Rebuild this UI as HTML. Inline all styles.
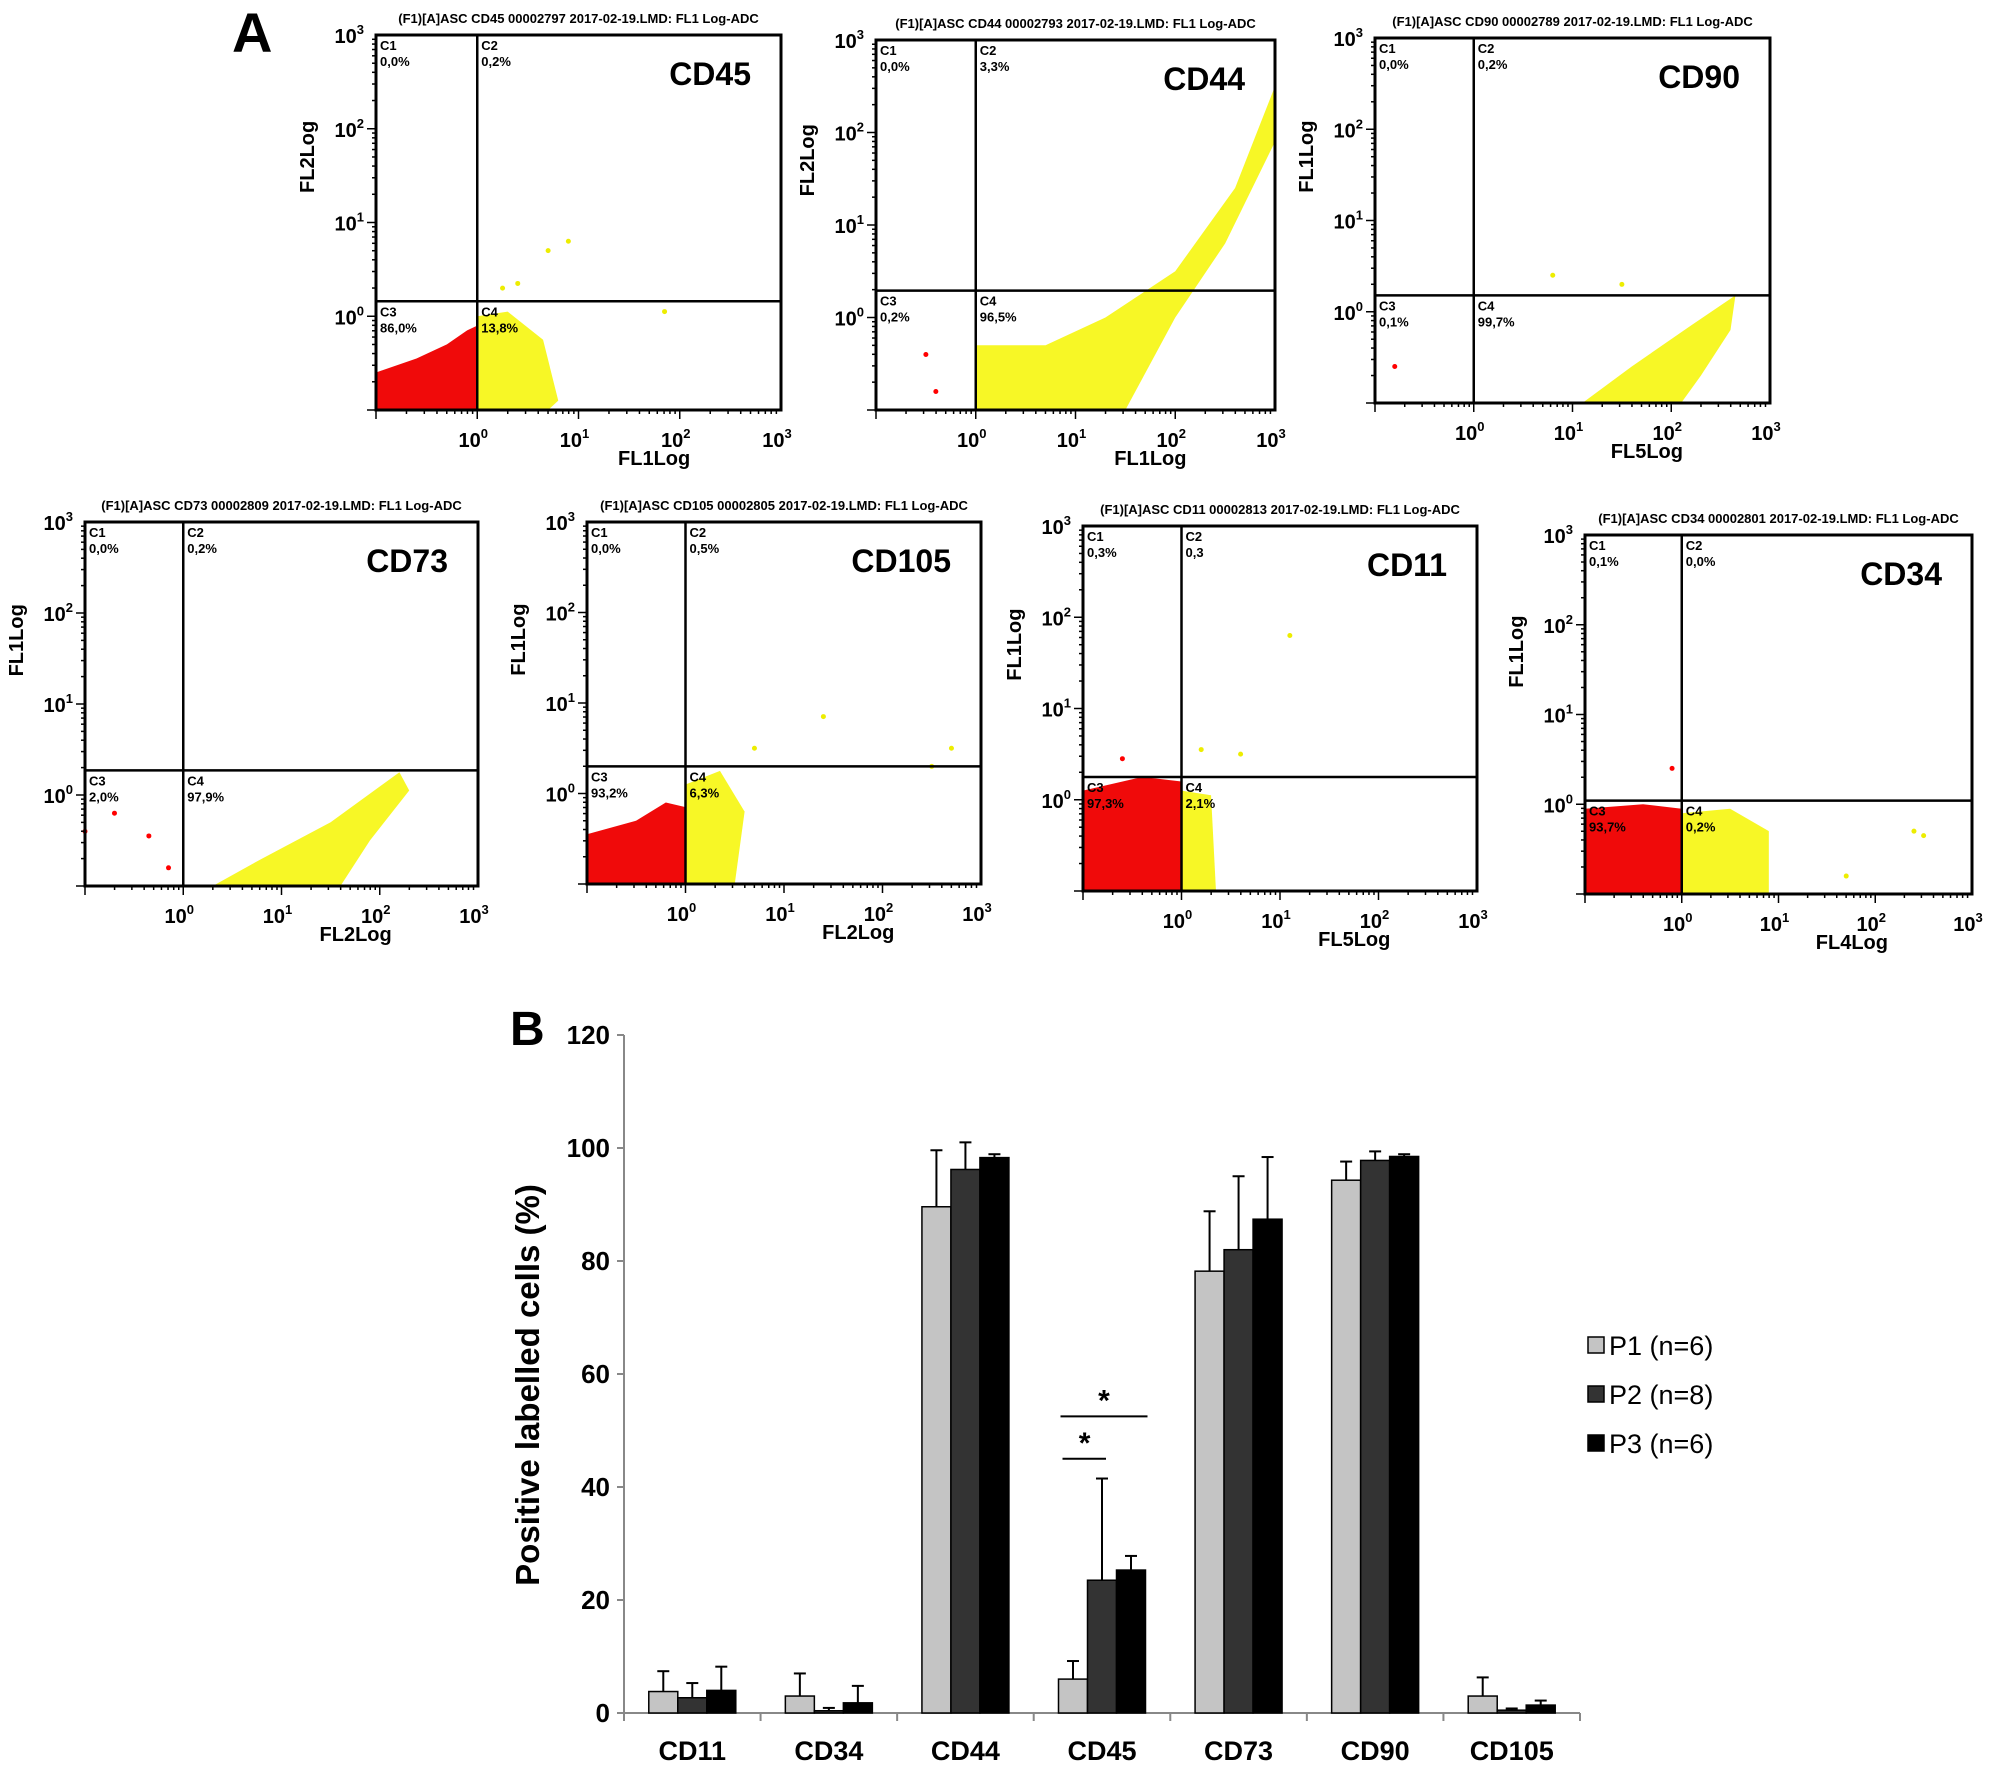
<!DOCTYPE html>
<html><head><meta charset="utf-8"><style>
html,body{margin:0;padding:0;background:#fff;}
svg{display:block;font-family:"Liberation Sans",Arial,sans-serif;}
</style></head><body>
<svg id="fig" width="2008" height="1773" viewBox="0 0 2008 1773" xmlns="http://www.w3.org/2000/svg">
<text x="232" y="52" font-size="56" font-weight="bold">A</text>
<text x="510" y="1045" font-size="48" font-weight="bold">B</text>
<g id="scatters"></g>
<g id="bars"></g>
</svg>
<script>
const NS="http://www.w3.org/2000/svg";
function mk(tag,attrs,parent,txt){const e=document.createElementNS(NS,tag);for(const k in attrs)e.setAttribute(k,attrs[k]);if(txt!==undefined)e.textContent=txt;parent.appendChild(e);return e;}

// ---------- Panel A data ----------
const panelNames=["CD45","CD44","CD90","CD73","CD105","CD11","CD34"];
const panelIds=["00002797","00002793","00002789","00002809","00002805","00002813","00002801"];
const panelYLabels=["FL2Log","FL2Log","FL1Log","FL1Log","FL1Log","FL1Log","FL1Log"];
const panelXLabels=["FL1Log","FL1Log","FL5Log","FL2Log","FL2Log","FL5Log","FL4Log"];
const panelPercents=[["0,0%","0,2%","86,0%","13,8%"],["0,0%","3,3%","0,2%","96,5%"],["0,0%","0,2%","0,1%","99,7%"],["0,0%","0,2%","2,0%","97,9%"],["0,0%","0,5%","93,2%","6,3%"],["0,3%","0,3","97,3%","2,1%"],["0,1%","0,0%","93,7%","0,2%"]];
const panelGateY=[0.16,0.29,0.18,0.27,0.30,0.25,0.04];
// clouds in log-decade coords [x,y]
const redClouds=[
 [[-1,-1],[-1,-0.6],[-0.6,-0.45],[-0.3,-0.3],[-0.1,-0.15],[0,-0.1],[0,-1]],
 null,null,null,
 [[-1,-1],[-1,-0.45],[-0.5,-0.3],[-0.2,-0.1],[0,-0.15],[0,-1]],
 [[-1,-1],[-1,0.1],[-0.4,0.25],[0,0.2],[0,-1]],
 [[-1,-1],[-1,-0.05],[-0.4,0],[0,-0.05],[0,-1]]
];
const yellowClouds=[
 [[0,-1],[0,0],[0.3,0.05],[0.65,-0.25],[0.8,-0.9],[0.7,-1]],
 [[0,-1],[0,-0.3],[0.7,-0.3],[1.3,0],[2,0.5],[2.6,1.4],[3,2.5],[3,1.9],[2.5,0.8],[2,0],[1.7,-0.6],[1.5,-1]],
 [[1.1,-1],[1.6,-0.6],[2.2,-0.15],[2.65,0.18],[2.6,-0.2],[2.3,-0.7],[2.1,-1]],
 [[0.3,-1],[0.8,-0.7],[1.5,-0.3],[2.2,0.25],[2.3,0.05],[1.9,-0.5],[1.6,-1]],
 [[0,-1],[0,0.1],[0.35,0.25],[0.6,-0.2],[0.5,-1]],
 [[0,-1],[0,0.1],[0.3,0.05],[0.35,-1]],
 [[0,-1],[0,-0.1],[0.5,-0.05],[0.9,-0.3],[0.9,-1]]
];
const outliersX=[[0.7,0.9,1.85,0.25,0.4],[-0.5,-0.4],[-0.8,0.8,1.5],[-1,-0.7,-0.35,-0.15],[1.4,2.7,2.5,0.7],[1.1,0.6,-0.6,0.2],[-0.1,2.4,2.5,1.7]];
const outliersY=[[0.7,0.8,0.05,0.3,0.35],[-0.4,-0.8],[-0.6,0.4,0.3],[-0.4,-0.2,-0.45,-0.8],[0.85,0.5,0.3,0.5],[1.8,0.5,0.45,0.55],[0.4,-0.3,-0.35,-0.8]];
const boxes=[[376,35,781,410],[876,40,1275,410],[1375,38,1770,403],[85,522,478,886],[587,522,981,884],[1083,526,1477,891],[1585,535,1972,894]];

const sc=document.getElementById('scatters');
boxes.forEach((b,i)=>{
 const [x0,y0,x1,y1]=b;
 const g=mk('g',{},sc);
 
 
 const X=v=>x0+(v+1)/4*(x1-x0), Y=v=>y1-(v+1)/4*(y1-y0);
 const ttl=mk('text',{x:(x0+x1)/2,y:y0-12,'font-size':13,'font-weight':'bold','text-anchor':'middle'},g,'(F1)[A]ASC '+panelNames[i]+' '+panelIds[i]+' 2017-02-19.LMD: FL1 Log-ADC');
 
 
 const pts=c=>c.map(p=>X(p[0])+','+Y(p[1])).join(' ');
 if(redClouds[i]){const r=mk('polygon',{points:pts(redClouds[i]),fill:'#f00a0a'},g);}
 const yc=mk('polygon',{points:pts(yellowClouds[i]),fill:'#f6f600','fill-opacity':0.85},g);
 
 
 outliersX[i].forEach((ox,j)=>{const c=mk('circle',{cx:X(ox),cy:Y(outliersY[i][j]),r:2.5,fill:(ox<0?'#f00':'#eded00')},g);});
 const bx=mk('rect',{x:x0,y:y0,width:x1-x0,height:y1-y0,fill:'none',stroke:'#000','stroke-width':3},g);
 
 
 const gx=X(0), gy=Y(panelGateY[i]);
 mk('line',{x1:gx,y1:y0,x2:gx,y2:y1,stroke:'#000','stroke-width':2.5},g);
 mk('line',{x1:x0,y1:gy,x2:x1,y2:gy,stroke:'#000','stroke-width':2.5},g);
 const q=[[x0+4,y0+15],[gx+4,y0+15],[x0+4,gy+15],[gx+4,gy+15]];
 q.forEach((p,k)=>{mk('text',{x:p[0],y:p[1],'font-size':13,'font-weight':'bold'},g,'C'+(k+1));const t=mk('text',{x:p[0],y:p[1]+16,'font-size':13,'font-weight':'bold'},g,panelPercents[i][k]);});
 const nm=mk('text',{x:x1-30,y:y0+50,'font-size':32,'font-weight':'bold','text-anchor':'end'},g,panelNames[i]);
 
 
 for(let d=-1;d<3;d++){for(let m=1;m<10;m++){const v=d+Math.log10(m);if(v<-1)continue;
   const L=m===1?9:4;
   mk('line',{x1:x0-L,y1:Y(v),x2:x0,y2:Y(v),stroke:'#000','stroke-width':1.5},g);
   mk('line',{x1:X(v),y1:y1,x2:X(v),y2:y1+L,stroke:'#000','stroke-width':1.5},g);}}
 for(let d=0;d<=3;d++){
   const yt=mk('text',{x:x0-12,y:Y(d)+8,'font-size':20,'font-weight':'bold','text-anchor':'end'},g);
   mk('tspan',{},yt,'10');mk('tspan',{dy:-9,'font-size':13},yt,String(d));
   
   const xt=mk('text',{x:X(d)-4,y:y1+37,'font-size':20,'font-weight':'bold','text-anchor':'middle'},g);
   mk('tspan',{},xt,'10');mk('tspan',{dy:-9,'font-size':13},xt,String(d));
   
 }
 const yl=mk('text',{x:0,y:0,'font-size':20,'font-weight':'bold','text-anchor':'middle',transform:'translate('+(x0-62)+','+(Y(1.7))+') rotate(-90)'},g,panelYLabels[i]);
 
 const xl=mk('text',{x:(X(0)+X(3))/2+25,y:y1+55,'font-size':20,'font-weight':'bold','text-anchor':'middle'},g,panelXLabels[i]);
 
});

// ---------- Panel B data ----------
const categories=["CD11","CD34","CD44","CD45","CD73","CD90","CD105"];
const seriesNames=["P1 (n=6)","P2 (n=8)","P3 (n=6)"];
const p1Values=[3.8,3.0,89.6,6.0,78.2,94.3,3.0];
const p2Values=[2.7,0.4,96.2,23.5,82.0,97.8,0.5];
const p3Values=[4.0,1.8,98.3,25.3,87.4,98.5,1.4];
const p1Err=[3.6,4.0,10.0,3.2,10.6,3.3,3.3];
const p2Err=[2.6,0.5,4.8,18.0,13.0,1.6,0.3];
const p3Err=[4.2,3.0,0.6,2.5,11.0,0.4,0.8];
const yTicks=[0,20,40,60,80,100,120];
const seriesColors=["#c4c4c4","#333333","#000000"];

const bg=document.getElementById('bars');
const AX=624, AXR=1580, Y0=1713, Y120=1035;
const yS=v=>Y0-(v/120)*(Y0-Y120);
const catW=(AXR-AX)/categories.length;
const xC=i=>AX+catW*(i+0.5);
const BW=29;
mk('line',{x1:AX,y1:Y120,x2:AX,y2:Y0,stroke:'#888','stroke-width':2},bg);
mk('line',{x1:AX,y1:Y0,x2:AXR,y2:Y0,stroke:'#888','stroke-width':2},bg);
yTicks.forEach(t=>{mk('line',{x1:AX-7,y1:yS(t),x2:AX,y2:yS(t),stroke:'#888','stroke-width':2},bg);
 const tl=mk('text',{x:AX-14,y:yS(t)+9,'font-size':26,'font-weight':'bold','text-anchor':'end'},bg,String(t));
 });
for(let i=0;i<=categories.length;i++)mk('line',{x1:AX+catW*i,y1:Y0,x2:AX+catW*i,y2:Y0+8,stroke:'#888','stroke-width':2},bg);
categories.forEach((c,i)=>{const t=mk('text',{x:xC(i),y:Y0+47,'font-size':27,'font-weight':'bold','text-anchor':'middle'},bg,c);});
const yt=mk('text',{x:0,y:0,'font-size':33,'font-weight':'bold','text-anchor':'middle',transform:'translate(539,1385) rotate(-90)'},bg,'Positive labelled cells (%)');

const allVals=[p1Values,p2Values,p3Values], allErr=[p1Err,p2Err,p3Err];
categories.forEach((c,i)=>{allVals.forEach((vals,s)=>{
 const x=xC(i)+(s-1)*BW-BW/2, v=vals[i], e=allErr[s][i];
 const r=mk('rect',{x:x,y:yS(v),width:BW,height:Y0-yS(v),fill:seriesColors[s],stroke:'#000','stroke-width':1.5},bg);
 
 
 const cx=x+BW/2;
 const el=mk('line',{x1:cx,y1:yS(v),x2:cx,y2:yS(v+e),stroke:'#000','stroke-width':2},bg);
 
 mk('line',{x1:cx-6,y1:yS(v+e),x2:cx+6,y2:yS(v+e),stroke:'#000','stroke-width':2},bg);
});});
const ci=3;
const s1=mk('line',{x1:xC(ci)-BW*1.5+4,y1:yS(45),x2:xC(ci)+4,y2:yS(45),stroke:'#000','stroke-width':2},bg);

mk('text',{x:xC(ci)-BW*0.6,y:yS(45)-6,'font-size':30,'font-weight':'bold','text-anchor':'middle'},bg,'*');
const s2=mk('line',{x1:xC(ci)-BW*1.5+2,y1:yS(52.5),x2:xC(ci)+BW*1.5+2,y2:yS(52.5),stroke:'#000','stroke-width':2},bg);

mk('text',{x:xC(ci)+2,y:yS(52.5)-6,'font-size':30,'font-weight':'bold','text-anchor':'middle'},bg,'*');
seriesNames.forEach((n,s)=>{const ly=1346+s*49;
 const g=mk('g',{},bg);
 mk('rect',{x:1588,y:ly-9,width:16,height:16,fill:seriesColors[s],stroke:'#000','stroke-width':1.5},g);
 mk('text',{x:1609,y:ly+9,'font-size':27},g,n);});
</script>
</body></html>
